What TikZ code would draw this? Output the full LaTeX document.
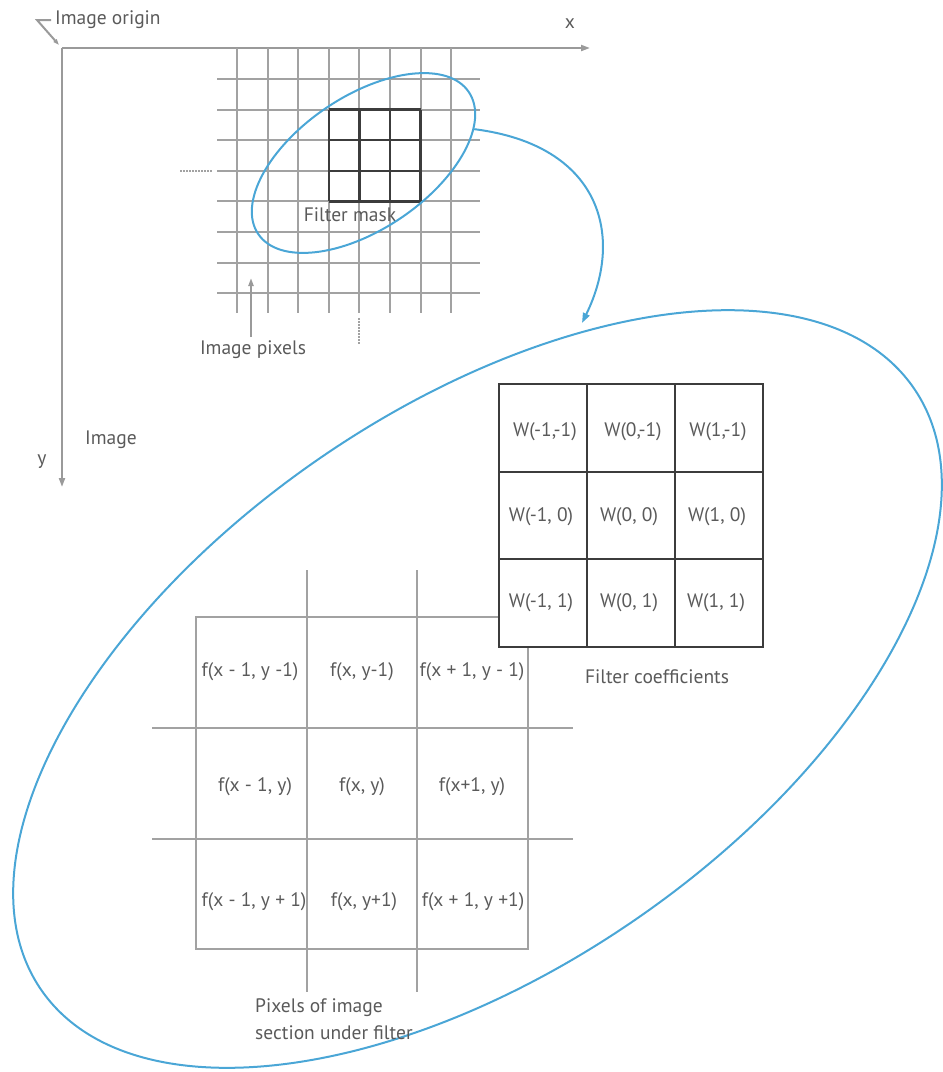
\documentclass[tikz,border=0pt]{standalone}
\usepackage{fontspec}
\setmainfont{PT Sans}
\usetikzlibrary{shapes.geometric,arrows.meta}
\definecolor{gridgray}{HTML}{A2A2A2}
\definecolor{axisgray}{HTML}{9A9A9A}
\definecolor{darkline}{HTML}{3C3C3C}
\definecolor{txtgray}{HTML}{5A5A5A}
\definecolor{ellblue}{HTML}{4AA6D6}
\tikzset{
  lbl/.style={text=txtgray, font=\fontsize{19.5}{23}\selectfont, inner sep=0pt},
  cell/.style={text=txtgray, font=\fontsize{19.5}{23}\selectfont, inner sep=0pt},
  gridln/.style={draw=gridgray, line width=2pt},
  darkln/.style={draw=darkline, line width=2.4pt},
  axisln/.style={draw=axisgray, line width=2pt, -{Triangle[length=9pt,width=6pt]}},
  blueln/.style={draw=ellblue, line width=2pt},
}
\begin{document}
\begin{tikzpicture}[x=1pt,y=-1pt]
\useasboundingbox (0,0) rectangle (943,1072);
% axes
\coordinate (O) at (62,48);
\coordinate (xend) at (590,48);
\coordinate (yend) at (62,487);
\draw[axisln] (O) -- (xend);
\draw[axisln] (O) -- (yend);
\coordinate (om1) at (51,20);
\coordinate (om2) at (37,20);
\coordinate (om3) at (59,45);
\draw[draw=axisgray, line width=2pt, -{Triangle[length=6pt,width=4pt]}] (om1) -- (om2) -- (om3);
\node[lbl, anchor=west] (origin) at (55,20) {Image origin};
\node[lbl] (xlab) at (570,24) {x};
\node[lbl] (ylab) at (42,462) {y};
\node[lbl, anchor=west] (imglab) at (85,440) {Image};
% image grid
\foreach \i in {0,...,7} {
  \draw[gridln] (237+30.6*\i,48) -- (237+30.6*\i,313);
  \draw[gridln] (217,79+30.6*\i) -- (480,79+30.6*\i);
}
\foreach \i in {3,...,6} {
  \draw[darkln] (237+30.6*\i,109.6) -- (237+30.6*\i,201.4);
}
\foreach \j in {1,...,4} {
  \draw[darkln] (328.8,79+30.6*\j) -- (420.6,79+30.6*\j);
}
\draw[draw=gridgray, line width=2pt, dash pattern=on 1.5pt off 1.5pt] (180,170.8) -- (212,170.8);
\draw[draw=gridgray, line width=2pt, dash pattern=on 1.5pt off 1.5pt] (359.4,318) -- (359.4,345);
\node[lbl] (fmask) at (350,215) {Filter mask};
\coordinate (pxtail) at (251,337);
\coordinate (pxhead) at (251,278);
\draw[draw=axisgray, line width=2pt, -{Triangle[length=8pt,width=5pt]}] (pxtail) -- (pxhead);
\node[lbl] (pxlab) at (253,350) {Image pixels};
% small ellipse
\node[ellipse, blueln, minimum width=254pt, minimum height=133pt, inner sep=0pt, rotate=34] (small) at (363.5,163) {};
% big ellipse
\node[ellipse, blueln, minimum width=1060pt, minimum height=559pt, inner sep=0pt, rotate=34.6] (big) at (477.5,689) {};
% connector
\coordinate (tip) at (582,323);
\draw[blueln, -{Triangle[length=10pt,width=7pt]}] (small.-17) .. controls (600,145) and (625,235) .. (tip);
% f grid
\draw[gridln] (196,617) rectangle (528,949);
\draw[gridln] (307,570) -- (307,992);
\draw[gridln] (417,570) -- (417,992);
\draw[gridln] (152,728) -- (573,728);
\draw[gridln] (152,839) -- (573,839);
\node[cell] (f11) at (250,672) {f(x - 1, y -1)};
\node[cell] (f12) at (362,672) {f(x, y-1)};
\node[cell] (f13) at (472,672) {f(x + 1, y - 1)};
\node[cell] (f21) at (255,787) {f(x - 1, y)};
\node[cell] (f22) at (362,787) {f(x, y)};
\node[cell] (f23) at (472,787) {f(x+1, y)};
\node[cell] (f31) at (254,902) {f(x - 1, y + 1)};
\node[cell] (f32) at (364,902) {f(x, y+1)};
\node[cell] (f33) at (473,902) {f(x + 1, y +1)};
\node[lbl, anchor=base west, align=left, font=\fontsize{19.5}{27}\selectfont] (sect) at (255,1039) {Pixels of image\\section under filter};
% W grid
\fill[white] (499,384) rectangle (763,647);
\draw[darkln] (499,384) rectangle (763,647);
\draw[darkln] (587,384) -- (587,647);
\draw[darkln] (675,384) -- (675,647);
\draw[darkln] (499,472) -- (763,472);
\draw[darkln] (499,559) -- (763,559);
\node[cell] (w11) at (545,432) {W(-1,-1)};
\node[cell] (w12) at (633,432) {W(0,-1)};
\node[cell] (w13) at (718,432) {W(1,-1)};
\node[cell] (w21) at (541,517) {W(-1, 0)};
\node[cell] (w22) at (629,517) {W(0, 0)};
\node[cell] (w23) at (717,517) {W(1, 0)};
\node[cell] (w31) at (541,603) {W(-1, 1)};
\node[cell] (w32) at (629,603) {W(0, 1)};
\node[cell] (w33) at (716,603) {W(1, 1)};
\node[lbl] (fcoef) at (657,677) {Filter coefficients};
\end{tikzpicture}
\end{document}
